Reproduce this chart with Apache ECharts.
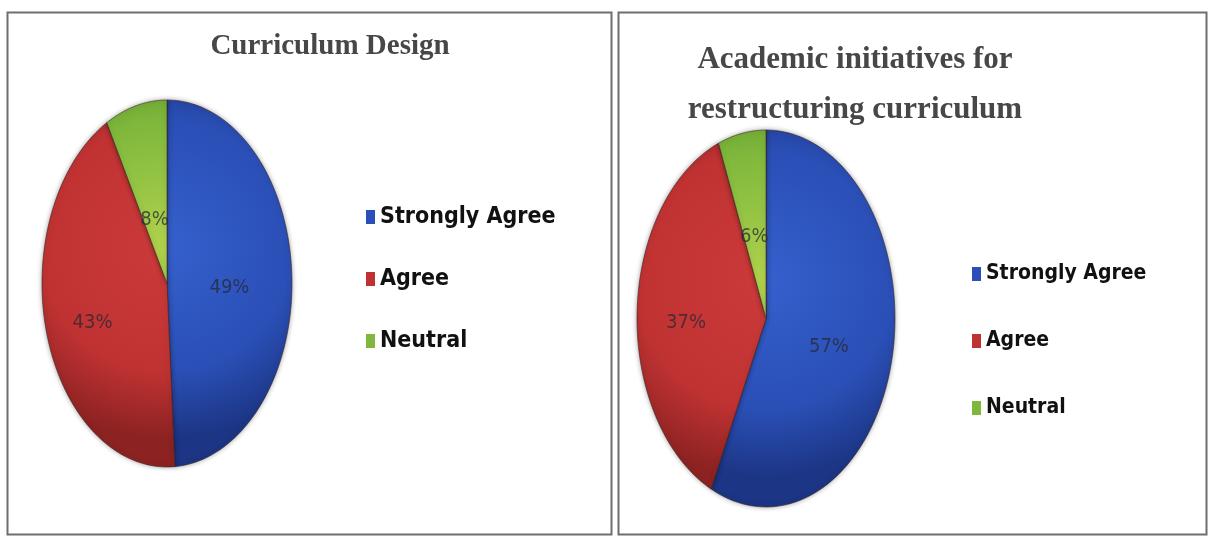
<!DOCTYPE html>
<html>
<head>
<meta charset="utf-8">
<script src="https://cdn.jsdelivr.net/npm/echarts@6/dist/echarts.min.js"></script>
<style>
html,body{margin:0;padding:0;background:#fff;}
#main{width:1211px;height:537px;}
</style>
</head>
<body>
<div id="main"></div>
<script>
const categories = ['Strongly Agree', 'Agree', 'Neutral'];
const designValues = [49, 43, 8];
const initiativeValues = [57, 37, 6];
const titleLeft = 'Curriculum Design';
const titleRight = 'Academic initiatives for\nrestructuring curriculum';

const colors = ['#2a4fb6', '#c03232', '#7fb83c'];
const edgeColors = ['#1c3584', '#8c2222', '#5a9428'];
const lightColors = ['#3560cc', '#cc3a3a', '#b0d24c'];
const labelRadius = [[0.5, 0.62, 0.4], [0.5, 0.62, 0.48]];

function makeRenderer(values, idx, g) {
  return function (params, api) {
    const total = values.reduce((a, b) => a + b, 0);
    let before = 0;
    for (let i = 0; i < idx; i++) before += values[i];
    const start = before / total;
    const end = start + api.value(0) / total;
    const N = 80;
    const c = api.coord([0, 0]);
    const pts = [c];
    for (let k = 0; k <= N; k++) {
      const a = 2 * Math.PI * (start + (end - start) * k / N);
      pts.push(api.coord([Math.sin(a), Math.cos(a)]));
    }
    const top = api.coord([0, 1]);
    const ry = Math.abs(c[1] - top[1]);
    const mid = 2 * Math.PI * (start + end) / 2;
    const lr = labelRadius[g][idx];
    const lp = api.coord([lr * Math.sin(mid), lr * Math.cos(mid) - 0.04]);
    const pct = Math.round(api.value(0) / total * 100) + '%';
    return {
      type: 'group',
      children: [
        {
          type: 'polygon',
          shape: { points: pts },
          style: {
            fill: {
              type: 'radial', x: c[0], y: c[1] - ry * 0.2, r: ry * 1.05, global: true,
              colorStops: [
                { offset: 0, color: lightColors[idx] },
                { offset: 0.65, color: colors[idx] },
                { offset: 1, color: edgeColors[idx] }
              ]
            },
            stroke: 'rgba(60,35,35,0.6)',
            lineWidth: 1,
            shadowBlur: 5,
            shadowColor: 'rgba(0,0,0,0.35)'
          }
        },
        {
          type: 'text',
          x: lp[0], y: lp[1],
          style: {
            text: pct,
            align: 'center', verticalAlign: 'middle',
            fontFamily: 'DejaVu Sans Condensed',
            fontSize: 20,
            fill: 'rgba(40,40,55,0.75)'
          }
        }
      ]
    };
  };
}

const grids = [
  { left: 42, top: 100, width: 250, height: 367 },
  { left: 637, top: 130, width: 258, height: 377 }
];
const axisBase = { type: 'value', min: -1, max: 1, show: false };

const series = [];
[designValues, initiativeValues].forEach((vals, g) => {
  categories.forEach((name, i) => {
    series.push({
      type: 'custom',
      name: name,
      coordinateSystem: 'cartesian2d',
      xAxisIndex: g, yAxisIndex: g,
      itemStyle: { color: colors[i] },
      data: [[vals[i]]],
      renderItem: makeRenderer(vals, i, g),
      silent: true,
      animation: false
    });
  });
});

function legendText(size) {
  return {
    fontFamily: 'DejaVu Sans Condensed',
    fontWeight: 'bold',
    fontSize: size,
    color: '#111',
    lineHeight: 24
  };
}

const chart = echarts.init(document.getElementById('main'), null, { renderer: 'canvas' });
chart.setOption({
  backgroundColor: '#fff',
  animation: false,
  title: [
    {
      text: titleLeft, left: 325, top: 27, textAlign: 'center',
      textStyle: { fontFamily: 'Liberation Serif', fontWeight: 'bold', fontSize: 29, color: '#474747' }
    },
    {
      text: titleRight, left: 850, top: 30, textAlign: 'center',
      textStyle: { fontFamily: 'Liberation Serif', fontWeight: 'bold', fontSize: 31, lineHeight: 50, color: '#474747' }
    }
  ],
  grid: grids,
  xAxis: [Object.assign({ gridIndex: 0 }, axisBase), Object.assign({ gridIndex: 1 }, axisBase)],
  yAxis: [Object.assign({ gridIndex: 0 }, axisBase), Object.assign({ gridIndex: 1 }, axisBase)],
  legend: [
    {
      data: categories, orient: 'vertical', left: 361, top: 200,
      icon: 'rect', itemWidth: 9, itemHeight: 14, itemGap: 38,
      textStyle: legendText(23), selectedMode: false
    },
    {
      data: categories, orient: 'vertical', left: 967, top: 257,
      icon: 'rect', itemWidth: 9, itemHeight: 14, itemGap: 43,
      textStyle: legendText(21), selectedMode: false
    }
  ],
  graphic: [
    { type: 'rect', shape: { x: 7.5, y: 12.5, width: 604, height: 522 }, style: { fill: 'none', stroke: '#6e6e6e', lineWidth: 2 }, silent: true },
    { type: 'rect', shape: { x: 618.5, y: 12.5, width: 588, height: 522 }, style: { fill: 'none', stroke: '#6e6e6e', lineWidth: 2 }, silent: true }
  ],
  series: series
});
</script>
</body>
</html>
